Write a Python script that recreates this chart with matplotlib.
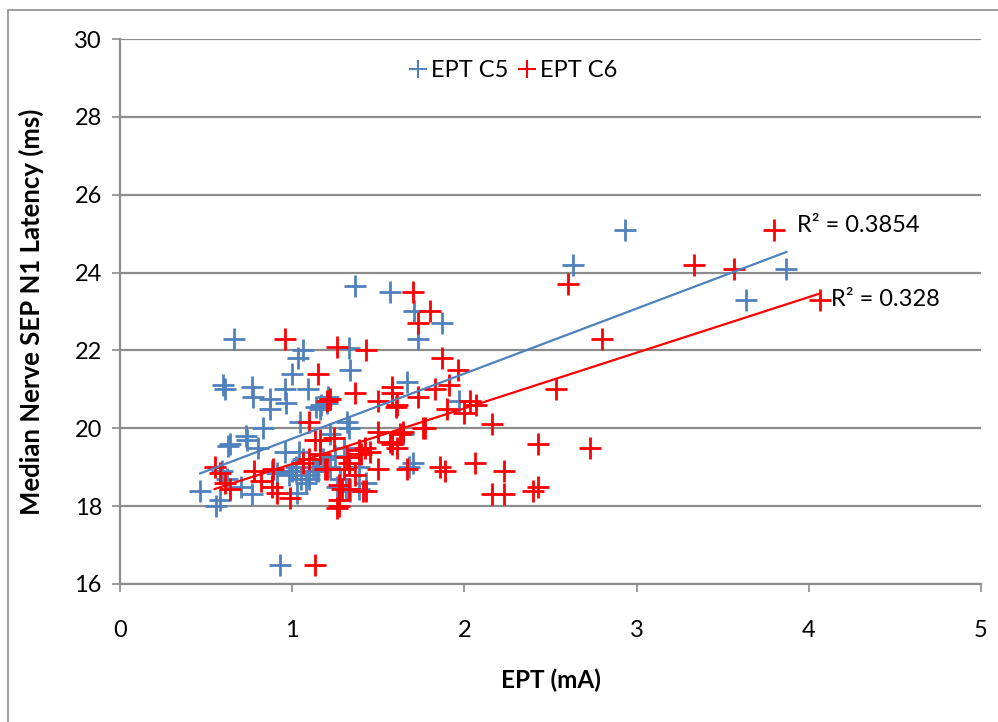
import numpy as np
import matplotlib
matplotlib.use("Agg")
import matplotlib.pyplot as plt
from matplotlib.patches import Rectangle

plt.rcParams['font.family'] = ['Lato', 'DejaVu Sans']

# EPT threshold (mA) and median nerve SEP N1 latency (ms), C5 recordings
c5_ept = [0.465, 0.56, 0.58, 0.59, 0.60, 0.61, 0.63, 0.64, 0.66, 0.70,
          0.73, 0.74, 0.765, 0.77, 0.765, 0.80, 0.83, 0.87, 0.87, 0.88,
          0.91, 0.93, 0.96, 0.965, 1.00, 1.035, 1.06, 1.09, 1.025, 1.045,
          1.14, 1.17, 1.21, 1.20, 1.16, 1.32, 1.335, 1.33, 1.365, 1.57,
          1.71, 1.87, 1.73, 1.665, 1.645, 1.68, 1.70, 1.39, 1.335, 1.97,
          2.63, 2.93, 3.635, 3.87,
          0.98, 1.00, 1.02, 1.04, 1.06, 1.08, 1.10, 1.12, 1.15, 1.05,
          1.18, 1.22, 1.25, 1.28, 1.26, 1.30, 1.02, 0.96, 1.33, 1.31,
          1.39, 1.22, 1.10, 1.14, 0.62, 1.43]
c5_lat = [18.4, 18.0, 18.15, 18.9, 21.1, 21.0, 19.55, 19.6, 22.3, 18.5,
          19.8, 19.7, 21.05, 20.8, 18.3, 19.5, 20.0, 20.75, 20.5, 18.9,
          18.85, 16.5, 21.0, 20.65, 21.4, 21.8, 22.0, 21.0, 18.35, 20.15,
          20.55, 20.6, 20.8, 20.65, 20.5, 20.15, 21.5, 22.05, 23.65, 23.5,
          23.0, 22.7, 22.3, 21.2, 19.85, 19.0, 19.1, 19.0, 18.4, 20.7,
          24.2, 25.1, 23.3, 24.1,
          18.8, 18.9, 18.9, 19.4, 19.2, 18.6, 18.8, 19.0, 18.9, 18.7,
          19.2, 19.0, 19.3, 18.7, 18.5, 19.5, 19.0, 19.4, 20.0, 18.45,
          18.45, 19.85, 18.7, 18.9, 18.7, 18.6]

# C6 recordings
c6_ept = [0.55, 0.58, 0.61, 0.64, 0.78, 0.82, 0.88, 0.89, 0.91, 0.99,
          0.96, 1.13, 1.10, 1.13, 1.10, 1.06, 1.15, 1.26, 1.43, 1.22,
          1.365, 1.50, 1.58, 1.58, 1.60, 1.73, 1.24, 1.16, 1.50, 1.57,
          1.625, 1.77, 1.39, 1.42, 1.45, 1.40, 1.32, 1.30, 1.50, 1.665,
          1.19, 1.27, 1.33, 1.41, 1.27, 1.70, 1.73, 1.80, 1.87, 1.965,
          1.91, 1.83, 2.03, 2.07, 1.90, 2.00, 2.16, 1.76, 1.645, 1.86,
          1.89, 2.06, 2.16, 2.23, 2.23, 2.40, 2.43, 2.43, 2.73, 2.53,
          2.60, 2.80, 3.335, 3.567, 3.80, 4.065,
          1.20, 1.61, 1.58, 1.61, 1.33, 1.365, 1.29, 1.43, 1.27, 1.26,
          1.20, 1.16]
c6_lat = [19.0, 18.85, 18.6, 18.45, 18.9, 18.65, 18.5, 18.95, 18.35, 18.2,
          22.3, 16.5, 20.15, 19.7, 19.2, 19.1, 21.4, 22.1, 22.0, 20.75,
          20.9, 20.7, 21.05, 20.9, 20.55, 20.8, 19.75, 19.7, 19.9, 19.65,
          19.85, 20.0, 19.45, 19.5, 19.4, 19.35, 19.25, 18.95, 18.95, 18.95,
          18.95, 18.55, 18.45, 18.4, 18.0, 23.5, 22.7, 23.0, 21.8, 21.5,
          21.1, 21.0, 20.7, 20.6, 20.5, 20.4, 20.1, 20.0, 19.9, 19.0,
          18.9, 19.1, 18.3, 18.3, 18.9, 18.4, 18.5, 19.6, 19.5, 21.0,
          23.7, 22.3, 24.2, 24.1, 25.1, 23.3,
          20.7, 20.6, 19.6, 19.5, 19.1, 18.8, 18.45, 18.4, 18.15, 17.95,
          18.95, 19.35]

r2_labels = ["R\u00b2 = 0.3854", "R\u00b2 = 0.328"]
series_names = ["EPT C5", "EPT C6"]
colors = ["#4F81BD", "#FF0000"]

fig = plt.figure(figsize=(9.98, 7.22), dpi=100)
ax = fig.add_axes([120 / 998, 1 - 584 / 722, (981 - 120) / 998, (584 - 39) / 722])

# outer chart frame
fig.patches.append(Rectangle((8 / 998, -0.05), 1.2, 1 - 10 / 722 + 0.05,
                             transform=fig.transFigure, fill=False,
                             edgecolor="#8C8C8C", lw=1.2, zorder=0))

grid_c = "#8C8C8C"
ax.set_xlim(0, 5)
ax.set_ylim(16, 30)
ax.set_yticks(np.arange(16, 31, 2))
ax.set_xticks(np.arange(0, 6, 1))
ax.yaxis.grid(True, color=grid_c, lw=1.6)
ax.set_axisbelow(True)
for s in ["top", "right"]:
    ax.spines[s].set_visible(False)
for s in ["left", "bottom"]:
    ax.spines[s].set_color(grid_c)
    ax.spines[s].set_linewidth(1.6)
ax.tick_params(axis="both", direction="out", length=6, width=1.2, color=grid_c,
               labelsize=17, colors="black")
ax.tick_params(axis="x", pad=20)
ax.tick_params(axis="y", pad=7)

handles = []
for xs, ys, c, name in zip([c5_ept, c6_ept], [c5_lat, c6_lat], colors, series_names):
    xs = np.asarray(xs)
    ys = np.asarray(ys)
    ax.plot(xs, ys, linestyle="none", marker="+", ms=16, mew=2.0, color=c, zorder=3)
    h, = ax.plot([], [], linestyle="none", marker="+", ms=13, mew=1.5, color=c, label=name)
    handles.append(h)
    k, b = np.polyfit(xs, ys, 1)
    xl = np.array([xs.min(), xs.max()])
    ax.plot(xl, k * xl + b, color=c, lw=1.6, zorder=4)

# R² annotations at the ends of the trend lines
ax.text(3.93, 25.2, r2_labels[0], fontsize=17, ha="left", va="center")
ax.text(4.13, 23.3, r2_labels[1], fontsize=17, ha="left", va="center")

ax.legend(handles=handles, loc="upper center", bbox_to_anchor=(0.455, 1.0),
          ncol=2, frameon=False, fontsize=17, handletextpad=0.05,
          columnspacing=0.3, handlelength=1.0)

ax.set_xlabel("EPT (mA)", fontsize=17.5, fontweight="bold", labelpad=20)
ax.set_ylabel("Median Nerve SEP N1 Latency (ms)", fontsize=18.5, fontweight="bold", labelpad=22)

fig.savefig("out.png", dpi=100)
